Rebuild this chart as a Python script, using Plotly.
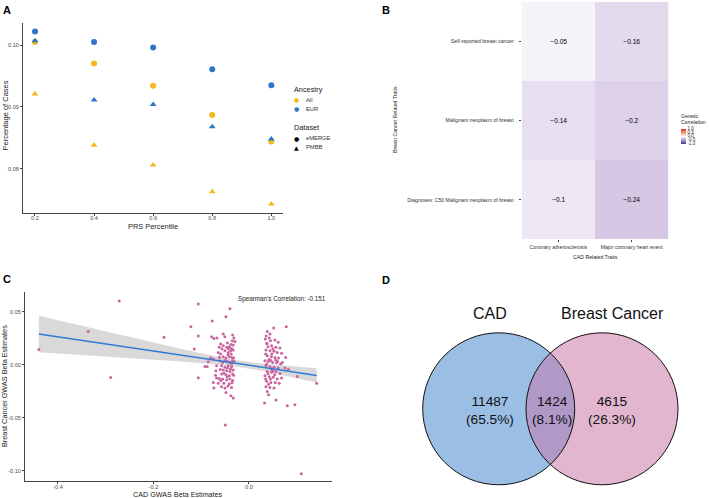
import numpy as np
import plotly.graph_objects as go

FONT = "Liberation Sans, Arial, Helvetica, sans-serif"

# ---------------- Panel A data ----------------
prs_percentile = [0.2, 0.4, 0.6, 0.8, 1.0]
prs_ticks = ["0.2", "0.4", "0.6", "0.8", "1.0"]
all_emerge = [0.1005, 0.0970, 0.0934, 0.0887, 0.0844]
all_pmbb = [0.0921, 0.0838, 0.0806, 0.0763, 0.0743]
eur_emerge = [0.1022, 0.1005, 0.0996, 0.0961, 0.0935]
eur_pmbb = [0.1007, 0.0911, 0.0904, 0.0868, 0.0848]
pct_ticks = [0.08, 0.09, 0.10]
pct_ticktext = ["0.08", "0.09", "0.10"]
ancestry_labels = ["All", "EUR"]
dataset_labels = ["eMERGE", "PMBB"]

# ---------------- Panel B data ----------------
cad_traits = ["Coronary atherosclerosis", "Major coronary heart event"]
bc_traits = ["Self-reported breast cancer", "Malignant neoplasm of breast",
             "Diagnoses: C50 Malignant neoplasm of breast"]
rg_coronary_atherosclerosis = [-0.05, -0.14, -0.1]
rg_major_coronary_event = [-0.16, -0.2, -0.24]
cbar_ticks = [-1.0, -0.5, 0.0, 0.5, 1.0]
cbar_ticktext = ["-1.0", "-0.5", "0.0", "0.5", "1.0"]

# ---------------- Panel C data ----------------
cad_beta = [
    -0.440, -0.3365, -0.2716, -0.2897, -0.178, -0.1215, -0.1145, -0.106, -0.106, -0.106,
    -0.0398, -0.0482, -0.0768, -0.0782, -0.0733, -0.0670, -0.0538, -0.0503, -0.0342, -0.0314,
    -0.0349, -0.0293, -0.0593, -0.0538, -0.0621, -0.0565, -0.0468, -0.0412, -0.0363, -0.0328,
    -0.0503, -0.0433, -0.0384, -0.0642, -0.0593, -0.0803, -0.0747, -0.0538, -0.0482, -0.0412,
    -0.0356, -0.0321, -0.0852, -0.0607, -0.0551, -0.0454, -0.0398, -0.0342, -0.0921, -0.0873,
    -0.0677, -0.0572, -0.0503, -0.0433, -0.0363, -0.0691, -0.0538, -0.0468, -0.0398, -0.0328,
    -0.0572, -0.0482, -0.0412, -0.0342, -0.0677, -0.0621, -0.0551, -0.0468, -0.0398, -0.0747,
    -0.0642, -0.0524, -0.0412, -0.0356, -0.0733, -0.0572, -0.0503, -0.0363, -0.0482, -0.0377,
    -0.0328, -0.0496,
    -0.0450, -0.0375, -0.0330, -0.0440, -0.0370, -0.0310, -0.0450, -0.0385, -0.0320, -0.0455,
    -0.0525, -0.0600, -0.0620, -0.0500, -0.0430, -0.0340, -0.0440, -0.0590, -0.0700, -0.0360,
    0.0517, 0.0782, 0.0384, 0.0440, 0.0342, 0.0426, 0.0545, 0.0614, 0.0370, 0.0475,
    0.0565, 0.0649, 0.0356, 0.0440, 0.0524, 0.0593, 0.0684, 0.0768, 0.0384, 0.0468,
    0.0545, 0.0621, 0.0335, 0.0405, 0.0496, 0.0579, 0.0663, 0.0356, 0.0440, 0.0524,
    0.0614, 0.0754, 0.0824, 0.0384, 0.0475, 0.0565, 0.0649, 0.0335, 0.0426, 0.0510,
    0.0593, 0.0684, 0.0370, 0.0461, 0.0551, 0.0635, 0.0356, 0.0440, 0.0524, 0.0384,
    0.0412, 0.0565, 0.0328, 0.0803, 0.0963, 0.1012, 0.1417, 0.1096,
    0.0360, 0.0450, 0.0400, 0.0500, 0.0350, 0.0420, 0.0480, 0.0560, 0.0370, 0.0470,
    0.0400, 0.0540, 0.0600, 0.0350, 0.0450, 0.0410, 0.0500, 0.0700, 0.0380, 0.0460,
]
bc_beta = [
    0.0144, 0.0314, 0.0601, -0.0120, 0.0258, 0.0358, 0.0148, 0.0572, 0.0271, -0.0123,
    0.0528, 0.0453, 0.0412, 0.0264, 0.0248, 0.0252, 0.0289, 0.0264, 0.0280, 0.0252,
    0.0226, 0.0220, 0.0195, 0.0179, 0.0164, 0.0148, 0.0164, 0.0170, 0.0154, 0.0186,
    0.0132, 0.0116, 0.0132, 0.0116, 0.0101, 0.0063, 0.0053, 0.0075, 0.0063, 0.0075,
    0.0069, 0.0063, 0.0028, 0.0038, 0.0022, 0.0031, 0.0022, 0.0038, -0.0016, -0.0016,
    -0.0009, -0.0009, -0.0025, -0.0009, -0.0019, -0.0057, -0.0050, -0.0057, -0.0063, -0.0050,
    -0.0088, -0.0094, -0.0104, -0.0088, -0.0126, -0.0129, -0.0135, -0.0145, -0.0135, -0.0167,
    -0.0176, -0.0176, -0.0182, -0.0170, -0.0220, -0.0208, -0.0220, -0.0214, -0.0261, -0.0292,
    -0.0314, -0.0569,
    0.0205, 0.0190, 0.0140, 0.0095, 0.0100, 0.0030, -0.0030, -0.0040, -0.0100, -0.0115,
    -0.0080, -0.0045, 0.0070, 0.0040, 0.0150, -0.0150, -0.0200, -0.0150, -0.0100, 0.0010,
    0.0346, 0.0358, 0.0314, 0.0289, 0.0242, 0.0252, 0.0233, 0.0211, 0.0201, 0.0179,
    0.0164, 0.0157, 0.0138, 0.0132, 0.0126, 0.0116, 0.0107, 0.0069, 0.0085, 0.0075,
    0.0069, 0.0063, 0.0038, 0.0031, 0.0022, 0.0019, 0.0006, -0.0009, -0.0019, -0.0025,
    -0.0031, -0.0031, -0.0044, -0.0063, -0.0072, -0.0063, -0.0082, -0.0104, -0.0113, -0.0119,
    -0.0135, -0.0126, -0.0157, -0.0167, -0.0167, -0.0176, -0.0208, -0.0214, -0.0220, -0.0252,
    -0.0283, -0.0333, -0.0362, -0.0387, -0.0377, -0.0110, -0.0176, -0.1028,
    0.0270, 0.0225, 0.0170, 0.0150, 0.0100, 0.0050, 0.0100, 0.0045, 0.0005, -0.0040,
    -0.0085, -0.0095, 0.0030, -0.0135, -0.0135, -0.0185, -0.0060, 0.0020, 0.0200, 0.0040,
]
fit_x = [-0.44, -0.35, -0.25, -0.15, -0.08, -0.03, 0.02, 0.08, 0.142]
fit_y = [0.0290, 0.0230, 0.0162, 0.0095, 0.0048, 0.0015, -0.0019, -0.0059, -0.0101]
fit_lo = [0.0118, 0.0093, 0.0063, 0.0032, 0.0007, -0.0016, -0.0051, -0.0105, -0.0168]
fit_hi = [0.0462, 0.0367, 0.0261, 0.0158, 0.0089, 0.0046, 0.0013, -0.0013, -0.0034]
spearman_rho = -0.151
c_xticks = [-0.4, -0.2, 0.0]
c_xticktext = ["-0.4", "-0.2", "0.0"]
c_yticks = [-0.10, -0.05, 0.00, 0.05]
c_yticktext = ["-0.10", "-0.05", "0.00", "0.05"]

# ---------------- Panel D data ----------------
venn_sets = ["CAD", "Breast Cancer"]
venn_counts = [11487, 1424, 4615]  # CAD only, both, Breast Cancer only

W, H = 709, 498
def px(x):
    return x / W
def py(y):
    return 1 - y / H

ORANGE = "#F5B71C"
BLUE = "#2E76C8"
PINK = "#C9649F"
TICKC = "#4D4D4D"
AXC = "#444444"

fig = go.Figure()

# ---------- Panel A traces ----------
for yv, col, sym in [(all_emerge, ORANGE, "circle"), (all_pmbb, ORANGE, "triangle-up"),
                     (eur_emerge, BLUE, "circle"), (eur_pmbb, BLUE, "triangle-up")]:
    fig.add_trace(go.Scatter(x=prs_percentile, y=yv, mode="markers", showlegend=False,
                             marker=dict(color=col, symbol=sym, size=6),
                             xaxis="x", yaxis="y", hoverinfo="skip"))

# ---------- Panel B heatmap ----------
z = [[a, b] for a, b in zip(rg_coronary_atherosclerosis, rg_major_coronary_event)]
colorscale = [
    [0.0, "#3B3B9E"], [0.125, "#7467B3"], [0.25, "#A594CB"], [0.375, "#D4C5E3"],
    [0.5, "#FFFFFF"], [0.625, "#F8CFC4"], [0.75, "#F19A88"], [0.875, "#E8634E"],
    [1.0, "#E02F1F"],
]
fig.add_trace(go.Heatmap(
    z=z, x=cad_traits, y=bc_traits, zmin=-1, zmax=1, colorscale=colorscale,
    texttemplate="%{z}", textfont=dict(size=6.6, color="black", family=FONT),
    xaxis="x2", yaxis="y2", hoverinfo="skip",
    colorbar=dict(
        title=dict(text="Genetic<br>Correlation", font=dict(size=5, family=FONT, color="#222"), side="top"),
        tickvals=cbar_ticks, ticktext=cbar_ticktext,
        tickfont=dict(size=4.5, family=FONT, color="#333"),
        x=px(681), xanchor="left", y=py(127), yanchor="middle",
        len=32, lenmode="pixels", thickness=5, outlinewidth=0,
        ticks="", xpad=0, ypad=0,
    ),
))

# ---------- Panel C ----------
fig.add_trace(go.Scatter(x=fit_x + fit_x[::-1], y=fit_hi + fit_lo[::-1], fill="toself",
                         fillcolor="rgba(170,170,170,0.45)", line=dict(width=0),
                         mode="lines", showlegend=False, xaxis="x3", yaxis="y3", hoverinfo="skip"))
fig.add_trace(go.Scatter(x=cad_beta, y=bc_beta, mode="markers", showlegend=False,
                         marker=dict(color=PINK, size=3),
                         xaxis="x3", yaxis="y3", hoverinfo="skip"))
fig.add_trace(go.Scatter(x=fit_x, y=fit_y, mode="lines", showlegend=False,
                         line=dict(color="#2F7BD6", width=1.5),
                         xaxis="x3", yaxis="y3", hoverinfo="skip"))

# ---------- Panel D (Venn on pixel-like axis) ----------
fig.add_trace(go.Scatter(x=[None], y=[None], xaxis="x4", yaxis="y4", showlegend=False))

axis_common = dict(showgrid=False, zeroline=False, showline=True, linecolor=AXC, linewidth=1,
                   ticks="outside", ticklen=2, tickcolor=AXC,
                   tickfont=dict(size=5.6, color=TICKC, family=FONT))

layout = dict(
    width=W, height=H, margin=dict(l=0, r=0, t=0, b=0),
    paper_bgcolor="white", plot_bgcolor="white",
    font=dict(family=FONT), showlegend=False,
    xaxis=dict(domain=[px(23), px(283)], range=[0.1594, 1.0396], tickvals=prs_percentile,
               ticktext=prs_ticks, anchor="y", ticklabelstandoff=-2, **axis_common),
    yaxis=dict(domain=[py(212.7), py(23)], range=[0.0729, 0.10356], tickvals=pct_ticks,
               ticktext=pct_ticktext, anchor="x", **axis_common),
    xaxis2=dict(domain=[px(521.7), px(668.3)], anchor="y2", showgrid=False, zeroline=False,
                showline=False, ticks="outside", ticklen=2, tickcolor=AXC,
                tickfont=dict(size=5.2, color="#333", family=FONT)),
    yaxis2=dict(domain=[py(239.3), py(2)], anchor="x2", autorange="reversed", showgrid=False,
                zeroline=False, showline=False, ticks="outside", ticklen=2, tickcolor=AXC,
                ticklabelstandoff=4,
                tickfont=dict(size=5.2, color="#333", family=FONT)),
    xaxis3=dict(domain=[px(25), px(332)], range=[-0.469, 0.174], tickvals=c_xticks,
                ticktext=c_xticktext, anchor="y3", ticklabelstandoff=-2, **axis_common),
    yaxis3=dict(domain=[py(481), py(292)], range=[-0.1097, 0.0686], tickvals=c_yticks,
                ticktext=c_yticktext, anchor="x3", **axis_common),
    xaxis4=dict(domain=[px(360), 1.0], range=[360, 709], visible=False, anchor="y4", fixedrange=True),
    yaxis4=dict(domain=[0.0, py(250)], range=[498, 250], visible=False, anchor="x4", fixedrange=True),
)
fig.update_layout(**layout)

ann = []
def A(x, y, text, size, **kw):
    d = dict(x=px(x), y=py(y), xref="paper", yref="paper", text=text, showarrow=False,
             font=dict(size=size, family=kw.pop("family", FONT), color=kw.pop("color", "#222")),
             xanchor=kw.pop("xanchor", "center"), yanchor=kw.pop("yanchor", "middle"))
    d.update(kw)
    ann.append(d)

# panel letters
A(7.5, 10, "<b>A</b>", 11, color="black")
A(385.5, 10, "<b>B</b>", 11, color="black")
A(7.5, 279, "<b>C</b>", 11, color="black")
A(385.5, 279.5, "<b>D</b>", 11, color="black")
# axis titles
A(153, 226.5, "PRS Percentile", 7.4)
A(4.5, 116, "Percentage of Cases", 7.5, textangle=-90)
A(395, 120, "Breast Cancer Related Traits", 5.2, textangle=-90)
A(595, 256.5, "CAD Related Traits", 5.2)
A(178, 494, "CAD GWAS Beta Estimates", 7.2)
A(4.5, 386.5, "Breast Cancer GWAS Beta Estimates", 7.3, textangle=-90)
A(282, 299, f"Spearman's Correlation: {spearman_rho}", 6.3)

# Panel A legend (ggplot-style guides as text)
GLYPH = "DejaVu Sans"
A(291.5, 89, "Ancestry", 7.3, xanchor="left")
for yy, col, lab in zip([99.5, 108.5], [ORANGE, BLUE], ancestry_labels):
    A(296, yy, "●", 6, color=col, family=GLYPH)
    A(303.5, yy, lab, 5.8, xanchor="left", color="#333")
A(291.5, 127.5, "Dataset", 7.3, xanchor="left")
for yy, glyph, lab in zip([138, 147], ["●", "▲"], dataset_labels):
    A(296, yy, glyph, 6, color="black", family=GLYPH)
    A(303.5, yy, lab, 5.8, xanchor="left", color="#333")

# Venn
total = sum(venn_counts)
cA = (498.7, 408.8)
cB = (602.0, 408.8)
r = 76.0
BLUEV = "#9BBEE4"
PINKV = "#E3B6D0"
PURV = "#B098C7"
shapes = []
for c, col in [(cA, BLUEV), (cB, PINKV)]:
    shapes.append(dict(type="circle", xref="x4", yref="y4", x0=c[0] - r, x1=c[0] + r,
                       y0=c[1] - r, y1=c[1] + r, fillcolor=col, line=dict(width=0)))
d = cB[0] - cA[0]
alpha = np.arccos((d / 2) / r)
tA = np.linspace(-alpha, alpha, 60)
tB = np.linspace(np.pi - alpha, np.pi + alpha, 60)
pts = [(cA[0] + r * np.cos(t), cA[1] + r * np.sin(t)) for t in tA] + \
      [(cB[0] + r * np.cos(t), cB[1] + r * np.sin(t)) for t in tB]
path = "M " + " L ".join(f"{x:.2f},{y:.2f}" for x, y in pts) + " Z"
shapes.append(dict(type="path", xref="x4", yref="y4", path=path, fillcolor=PURV, line=dict(width=0)))
for c in (cA, cB):
    shapes.append(dict(type="circle", xref="x4", yref="y4", x0=c[0] - r, x1=c[0] + r,
                       y0=c[1] - r, y1=c[1] + r, fillcolor="rgba(0,0,0,0)",
                       line=dict(color="#111", width=1)))

A(490, 313, venn_sets[0], 16, color="#111")
A(612.3, 313, venn_sets[1], 16, color="#111")
for xpos, cnt in zip([490, 551.5, 612.3], venn_counts):
    A(xpos, 410.5, f"{cnt}<br>({cnt / total * 100:.1f}%)", 13.7, color="#111")

fig.update_layout(annotations=ann, shapes=shapes)
fig.write_html("out.html", config={"displayModeBar": False},
               post_script="document.body.style.margin='0';document.body.style.overflow='hidden';")
